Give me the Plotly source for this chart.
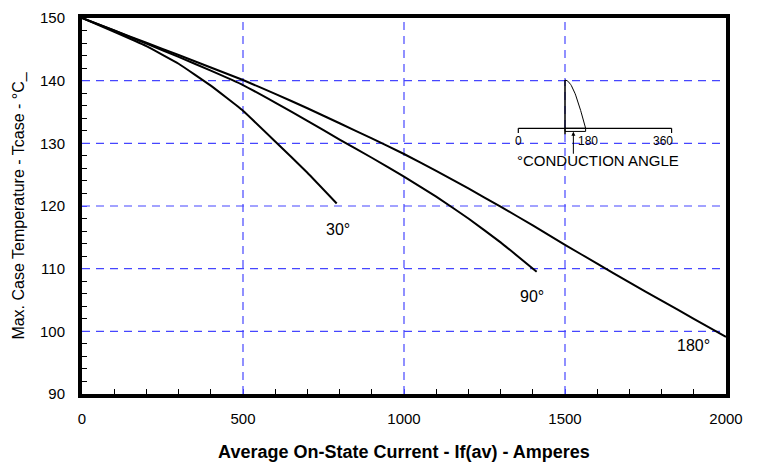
import plotly.graph_objects as go
import numpy as np

# Curve data (Average On-State Current [A], Max case temperature [°C])
x_30 = [0, 100, 200, 300, 400, 500, 600, 700, 791]
y_30 = [150, 147.8, 145.5, 142.7, 139.2, 135.2, 130.3, 125.3, 120.4]

x_90 = [0, 100, 200, 300, 400, 500, 600, 700, 800, 900, 1000, 1100, 1200, 1300, 1412]
y_90 = [150, 148.0, 145.9, 143.8, 141.6, 139.3, 136.5, 133.6, 130.6, 127.7, 124.7, 121.5, 118.0, 114.2, 109.5]

x_180 = [0, 100, 200, 300, 400, 500, 600, 700, 800, 900, 1000, 1100, 1200, 1300, 1400,
         1500, 1600, 1700, 1800, 1900, 2000]
y_180 = [150, 148.0, 146.05, 144.1, 142.1, 140.1, 137.9, 135.6, 133.2, 130.8, 128.3, 125.6, 122.8,
         119.9, 116.9, 113.8, 110.8, 107.8, 104.9, 102.0, 99.1]

curve_labels = ["30°", "90°", "180°"]
label_x = [795, 1397, 1898]
label_y = [116.2, 105.6, 97.8]

x_ticks = [0, 500, 1000, 1500, 2000]
y_ticks = [90, 100, 110, 120, 130, 140, 150]
x_grid = [500, 1000, 1500]
y_grid = [100, 110, 120, 130, 140]

# Conduction angle inset (in data units)
inset_axis_x = [1355, 1831]
inset_axis_y = 132.4
inset_tick_bottom = 131.65
inset_wave_x0 = 1500
inset_wave_x1 = 1564
inset_wave_top = 140.1
inset_wave_bottom = 131.45
inset_arrow_x = 1526
inset_arrow_tail = 128.1
inset_arrow_head = 131.85
inset_labels = ["0", "180", "360"]
inset_label_x = [1355, 1572, 1803]
inset_label_y = 130.4
inset_title = "°CONDUCTION ANGLE"
inset_title_x = 1604
inset_title_y = 127.3

FONT = "Arial, Liberation Sans, sans-serif"
GRID = "#4646ff"

fig = go.Figure()
for xs, ys in [(x_30, y_30), (x_90, y_90), (x_180, y_180)]:
    fig.add_trace(go.Scatter(x=xs, y=ys, mode="lines",
                             line=dict(color="black", width=2, shape="spline", smoothing=0.3),
                             showlegend=False, hoverinfo="skip"))

# inset wave (quarter sine)
th = np.linspace(np.pi / 2, np.pi, 30)
wx = inset_wave_x0 + (inset_wave_x1 - inset_wave_x0) * (th - np.pi / 2) / (np.pi / 2)
wy = inset_axis_y + (inset_wave_top - inset_axis_y) * np.sin(th)
fig.add_trace(go.Scatter(x=wx, y=wy, mode="lines", line=dict(color="black", width=1),
                         showlegend=False, hoverinfo="skip"))

shapes = []
for xv in x_grid:
    shapes.append(dict(type="line", xref="x", yref="paper", x0=xv, x1=xv, y0=0, y1=1, layer="below",
                       line=dict(color=GRID, width=1.2, dash="8px,6px")))
for yv in y_grid:
    shapes.append(dict(type="line", xref="paper", yref="y", x0=0, x1=1, y0=yv, y1=yv, layer="below",
                       line=dict(color=GRID, width=1.2, dash="8px,6px")))
shapes.append(dict(type="line", x0=inset_axis_x[0], x1=inset_axis_x[1], y0=inset_axis_y, y1=inset_axis_y,
                   line=dict(color="black", width=1.2)))
for xv in inset_axis_x:
    shapes.append(dict(type="line", x0=xv, x1=xv, y0=inset_axis_y, y1=inset_tick_bottom,
                       line=dict(color="black", width=1.2)))
shapes.append(dict(type="line", x0=inset_wave_x0, x1=inset_wave_x0, y0=inset_wave_top, y1=inset_wave_bottom,
                   line=dict(color="black", width=1.5)))
shapes.append(dict(type="rect", x0=inset_wave_x0, x1=inset_wave_x1, y0=inset_axis_y, y1=inset_axis_y - 0.5,
                   line=dict(color="black", width=1)))
fig.update_layout(shapes=shapes)

annotations = []
for t, xv, yv in zip(curve_labels, label_x, label_y):
    annotations.append(dict(x=xv, y=yv, text=t, showarrow=False, font=dict(size=16, color="black", family=FONT)))
for t, xv in zip(inset_labels, inset_label_x):
    annotations.append(dict(x=xv, y=inset_label_y, text=t, showarrow=False,
                            font=dict(size=12, color="black", family=FONT)))
annotations.append(dict(x=inset_title_x, y=inset_title_y, text=inset_title, showarrow=False,
                        font=dict(size=15, color="black", family=FONT)))
annotations.append(dict(x=inset_arrow_x, y=inset_arrow_head, ax=inset_arrow_x, ay=inset_arrow_tail,
                        xref="x", yref="y", axref="x", ayref="y", text="", showarrow=True,
                        arrowhead=2, arrowsize=0.8, arrowwidth=1, arrowcolor="black"))
fig.update_layout(annotations=annotations)

fig.update_xaxes(range=[0, 2000], tickvals=x_ticks, ticks="inside", ticklen=5, tickcolor=GRID,
                 showgrid=False, ticklabelstandoff=8, automargin=False,
                 minor=dict(dtick=100, ticks="inside", ticklen=5, tickcolor="black", showgrid=False),
                 showline=True, linecolor="black", linewidth=4, mirror=True, zeroline=False,
                 tickfont=dict(size=15, color="black", family=FONT),
                 title=dict(text="<b>Average On-State Current - If(av) - Amperes</b>", standoff=20,
                            font=dict(size=18, color="black", family=FONT)))
fig.update_yaxes(range=[90, 150], tickvals=y_ticks, ticks="inside", ticklen=5, tickcolor=GRID,
                 showgrid=False, ticklabelstandoff=10, automargin=False,
                 minor=dict(dtick=2, ticks="inside", ticklen=5, tickcolor="black", showgrid=False),
                 showline=True, linecolor="black", linewidth=4, mirror=True, zeroline=False,
                 tickfont=dict(size=15, color="black", family=FONT),
                 title=dict(text="Max. Case Temperature - Tcase - °C_", standoff=12,
                            font=dict(size=16, color="black", family=FONT)))

fig.update_layout(width=758, height=464, margin=dict(l=82, r=32, t=18, b=70, autoexpand=False),
                  paper_bgcolor="white", plot_bgcolor="white",
                  font=dict(family=FONT, color="black"))

fig.write_html("out.html")
